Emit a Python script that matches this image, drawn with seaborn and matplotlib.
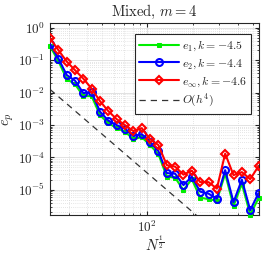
import numpy as np
import pandas as pd
import matplotlib
matplotlib.use("Agg")
import matplotlib.pyplot as plt
import seaborn as sns
from matplotlib.ticker import LogLocator, NullFormatter

# N^(1/2) values
sqrt_n = [22.6, 25.7, 29.2, 33.1, 37.6, 42.7, 48.5, 55.1, 62.6, 71.1, 80.8, 91.8,
          104.3, 118.5, 134.6, 152.9, 173.7, 197.3, 224.2, 254.7, 289.3, 328.6,
          373.3, 424.1, 481.8, 547.3]

e1 = [0.272, 0.0938, 0.0261, 0.0183, 0.0078, 0.0078, 0.00202, 0.00115, 8.02e-4,
      6.25e-4, 3.67e-4, 4.23e-4, 2.40e-4, 1.26e-4, 2.55e-5, 2.38e-5, 9.8e-6,
      2.14e-5, 5.74e-6, 5.16e-6, 4.65e-6, 3.16e-5, 3.14e-6, 1.55e-5, 1.72e-6,
      5.54e-6]
e2 = [0.314, 0.112, 0.0347, 0.0235, 0.00966, 0.0104, 0.00259, 0.00137, 9.93e-4,
      7.74e-4, 4.54e-4, 5.24e-4, 2.97e-4, 1.56e-4, 3.28e-5, 3.16e-5, 1.40e-5,
      2.55e-5, 8.8e-6, 7.63e-6, 5.35e-6, 4.06e-5, 4.17e-6, 2.06e-5, 2.36e-6,
      7.91e-6]
einf = [0.481, 0.205, 0.0906, 0.0495, 0.027, 0.0133, 0.00547, 0.00269, 0.00152,
        9.93e-4, 6.48e-4, 8.02e-4, 3.67e-4, 2.40e-4, 5.79e-5, 5.20e-5, 2.94e-5,
        3.92e-5, 1.73e-5, 1.73e-5, 1.09e-5, 1.31e-4, 2.84e-5, 3.52e-5, 2.14e-5,
        5.39e-5]

# O(h^4) reference line end points
ref_x = [22.6, 547.3]
ref_y = [1.26e-2, 3.67e-8]

labels = [r"$e_1, k = -4.5$", r"$e_2, k = -4.4$", r"$e_\infty, k = -4.6$", r"$O(h^4)$"]

sns.set_style("ticks")
plt.rcParams["font.family"] = ["cmr10", "DejaVu Serif"]
plt.rcParams["mathtext.fontset"] = "cm"
plt.rcParams["axes.formatter.use_mathtext"] = True

df = pd.DataFrame({"x": sqrt_n, "e1": e1, "e2": e2, "einf": einf})

fig = plt.figure(figsize=(2.66, 2.57), dpi=100)
ax = fig.add_axes([0.188, 0.163, 0.784, 0.746])

sns.lineplot(data=df, x="x", y="e1", ax=ax, color="#00ee00", lw=1.5, marker="s",
             ms=3, mec="#00ee00", label=labels[0], clip_on=False, zorder=3)
sns.lineplot(data=df, x="x", y="e2", ax=ax, color="#0000ff", lw=1.5, marker="o",
             ms=5, mfc="none", mec="#0000ff", mew=1.5, label=labels[1], zorder=4)
sns.lineplot(data=df, x="x", y="einf", ax=ax, color="#ff0000", lw=1.5, marker="D",
             ms=4.5, mfc="none", mec="#ff0000", mew=1.5, label=labels[2], zorder=5)
sns.lineplot(x=ref_x, y=ref_y, ax=ax, color="#333333", lw=0.9, ls=(0, (5, 4)),
             label=labels[3], zorder=2)

ax.set_xscale("log")
ax.set_yscale("log")
ax.set_xlim(sqrt_n[0], sqrt_n[-1])
ax.set_ylim(1.66e-6, 1.37)

ax.yaxis.set_major_locator(LogLocator(base=10, numticks=20))
ax.yaxis.set_minor_locator(LogLocator(base=10, subs=np.arange(2, 10), numticks=20))
ax.xaxis.set_minor_locator(LogLocator(base=10, subs=np.arange(2, 10), numticks=20))
ax.xaxis.set_minor_formatter(NullFormatter())

ax.grid(True, which="major", color="#dddddd", lw=0.6)
ax.grid(True, which="minor", color="#cccccc", lw=0.5, ls=(0, (1, 2)))
ax.tick_params(which="both", direction="in", top=True, right=True, labelsize=9.5,
               colors="#262626")
ax.tick_params(which="major", length=3)
ax.tick_params(which="minor", length=1.5)
for s in ax.spines.values():
    s.set_color("#262626")
    s.set_linewidth(0.8)

ax.set_title(r"Mixed, $m = 4$", fontsize=10.5, pad=5)
ax.set_xlabel(r"$N^{\frac{1}{2}}$", fontsize=10.5, labelpad=0)
ax.set_ylabel(r"$e_p$", fontsize=10.5, labelpad=1)

leg = ax.legend(loc="upper right", fontsize=8.5, frameon=True, fancybox=False,
                edgecolor="#262626", framealpha=1, handlelength=3.4,
                handletextpad=0.2, borderpad=0.35, labelspacing=0.3,
                borderaxespad=0.2, bbox_to_anchor=(0.975, 0.955))
leg.get_frame().set_linewidth(0.8)

fig.savefig("out.png", dpi=100)
